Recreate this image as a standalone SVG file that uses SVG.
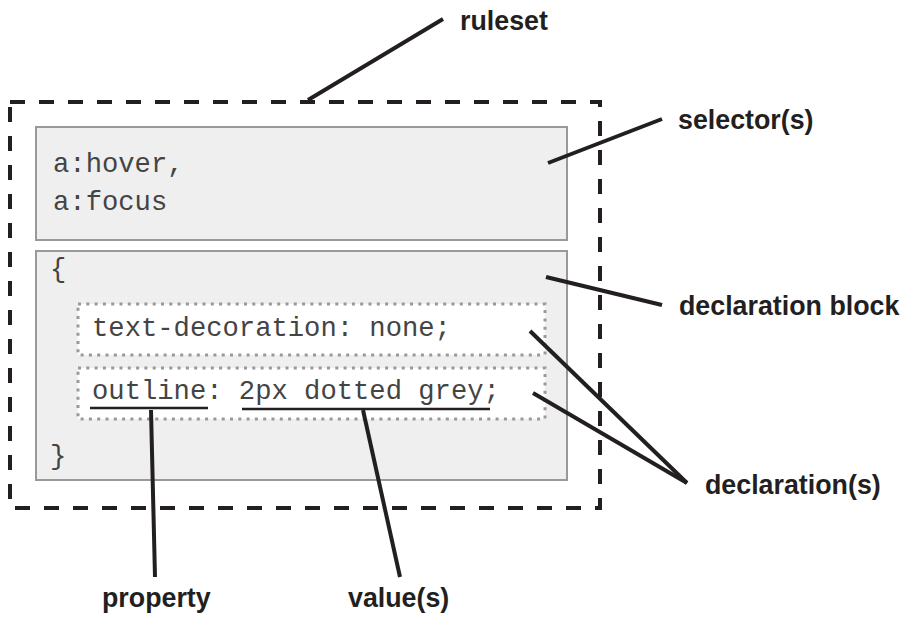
<svg xmlns="http://www.w3.org/2000/svg" width="907" height="621" viewBox="0 0 907 621">
<style>
.box{fill:#efefef;stroke:#999;stroke-width:2}
.decl{fill:#fff;stroke:#999;stroke-width:3;stroke-dasharray:3 5.3}
.code{font-family:"Liberation Mono","Courier New",monospace;font-size:27.2px;fill:#444}
.lbl{font-family:"Liberation Sans",Arial,sans-serif;font-weight:bold;font-size:26.8px;fill:#231f20}
.lead{stroke:#231f20;stroke-width:4;fill:none}
.ul{stroke:#231f20;stroke-width:2.5}
</style>
<rect width="907" height="621" fill="#fff"/>
<g id="ruleset"><rect x="10" y="102" width="590" height="406" fill="none" stroke="#231f20" stroke-width="4" stroke-dasharray="15 14"/></g>
<g id="selector"><rect class="box" x="36" y="127" width="531" height="113"/>
<text class="code" x="53" y="172">a:hover,</text>
<text class="code" x="53" y="210">a:focus</text></g>
<g id="declaration-block"><rect class="box" x="36" y="251" width="531" height="229"/>
<text class="code" x="50" y="277">{</text>
<text class="code" x="50" y="464">}</text></g>
<g id="declaration1"><rect class="decl" x="78" y="304" width="467" height="51"/>
<text class="code" x="92" y="336">text-decoration: none;</text></g>
<g id="declaration2"><rect class="decl" x="78" y="368" width="467" height="51"/>
<text class="code" x="92" y="399">outline: 2px dotted grey;</text>
<line class="ul" x1="90" y1="408" x2="208" y2="408"/>
<line class="ul" x1="242" y1="409" x2="490" y2="409"/></g>
<g id="labels">
<text class="lbl" x="460" y="30">ruleset</text>
<text class="lbl" x="678" y="129">selector(s)</text>
<text class="lbl" x="679" y="315">declaration block</text>
<text class="lbl" x="705" y="494">declaration(s)</text>
<text class="lbl" x="102" y="607">property</text>
<text class="lbl" x="348" y="607">value(s)</text>
</g>
<g id="connectors">
<line class="lead" x1="308" y1="100" x2="443" y2="19"/>
<line class="lead" x1="548" y1="163" x2="662" y2="119"/>
<line class="lead" x1="546" y1="277" x2="662" y2="305"/>
<line class="lead" x1="530" y1="331" x2="687" y2="483"/>
<line class="lead" x1="533" y1="393" x2="687" y2="483"/>
<line class="lead" x1="151" y1="410" x2="155" y2="577"/>
<line class="lead" x1="363" y1="410" x2="400" y2="577"/>
</g>
</svg>
